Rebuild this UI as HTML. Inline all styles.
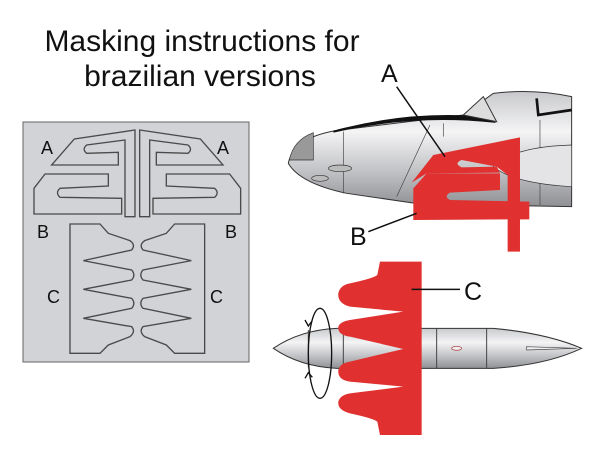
<!DOCTYPE html>
<html><head><meta charset="utf-8"><style>
html,body{margin:0;padding:0;background:#fff;width:600px;height:454px;overflow:hidden}
svg{display:block}
text{font-family:"Liberation Sans",Arial,sans-serif;fill:#111}
</style></head><body>
<svg width="600" height="454" viewBox="0 0 600 454" xmlns="http://www.w3.org/2000/svg">
<defs>
<linearGradient id="g" x1="0" y1="0" x2="0" y2="1">
<stop offset="0" stop-color="#c8c9cc"/><stop offset="0.35" stop-color="#f4f4f5"/><stop offset="0.7" stop-color="#c0c1c4"/><stop offset="1" stop-color="#8f9094"/>
</linearGradient>
</defs>
<text x="202" y="51" font-size="30" text-anchor="middle">Masking instructions for</text>
<text x="200" y="86" font-size="30" text-anchor="middle">brazilian versions</text>

<!-- panel -->
<rect x="23" y="122" width="226" height="240" fill="#d2d3d7" stroke="#666" stroke-width="1"/>
<g transform="translate(20,120) scale(0.3333)" fill="none" stroke="#4a4a4a" stroke-width="4">
 <g id="L">
  <path d="M95 135 L163 57 L345 30 L345 290 L315 290 L315 60 L200 75 Q185 88 200 100 L295 97 L295 135 Z"/>
  <path d="M42 205 L75 162 L265 162 L265 198 L120 205 Q105 218 120 232 L305 235 L305 282 L42 282 Z"/>
  <path d="M150 312 L240 312 L265 340 L330 362 Q348 375 335 390 L190 422 L335 450 Q348 465 335 480 L190 508 L335 535 Q348 550 335 565 L190 595 L335 620 Q348 635 330 650 L265 675 L240 700 L150 700 Z"/>
 </g>
 <use href="#L" transform="translate(704,0) scale(-1,1)"/>
</g>
<text x="41" y="154" font-size="18">A</text>
<text x="217" y="154" font-size="18">A</text>
<text x="37" y="238" font-size="18">B</text>
<text x="225" y="238" font-size="18">B</text>
<text x="47" y="303" font-size="18">C</text>
<text x="210" y="303" font-size="18">C</text>

<!-- plane nose -->
<g transform="translate(280,60) scale(0.3333)">
 <path d="M25 310 Q40 230 180 210 L550 165 L640 100 Q760 85 875 110 L875 440 L420 432 L200 400 Q60 370 25 310 Z" fill="url(#g)" stroke="#333" stroke-width="3"/>
 <path d="M160 215 Q400 160 640 185 L630 175 Q400 150 160 215 Z" fill="#111" stroke="#111" stroke-width="6"/>
 <path d="M550 165 L610 110 L650 185 Z" fill="#ddd" stroke="#333" stroke-width="3"/>
 <path d="M770 115 L775 165 L875 150" fill="none" stroke="#111" stroke-width="8"/>
 <path d="M100 218 L100 300 L28 300 Q40 240 100 218Z" fill="#999" stroke="#333" stroke-width="2"/>
 <path d="M190 215 L190 400 M450 195 L350 410 M490 190 L490 230 M780 180 L780 435" stroke="#444" stroke-width="2" fill="none"/>
 <ellipse cx="180" cy="325" rx="35" ry="10" fill="#bbb" stroke="#333" stroke-width="2"/>
 <ellipse cx="120" cy="355" rx="25" ry="9" fill="#bbb" stroke="#333" stroke-width="2"/>
 <path d="M640 320 Q700 260 875 255 L875 380 Q700 370 640 320Z" fill="#e4e4e6" stroke="#333" stroke-width="2"/>
 <path d="M460 285 L720 232 L720 575 L683 575 L683 345 L650 320 L545 300 Q520 310 545 322 L650 320 L660 338 L440 340 L395 368 Z" fill="#e03030"/>
 <path d="M400 480 L400 385 L440 340 L660 340 L660 390 L510 398 Q490 410 510 420 L748 425 L748 478 Z" fill="#e03030"/>
 <path d="M350 80 L495 290 M265 515 L410 460" stroke="#111" stroke-width="4.5"/>
</g>
<text x="381" y="82" font-size="25">A</text>
<text x="350" y="245" font-size="25">B</text>

<!-- tank -->
<g transform="translate(260,250) scale(0.3333)">
 <path d="M40 295 Q120 240 230 235 L700 235 Q860 250 965 295 Q860 345 700 355 L230 355 Q120 350 40 295 Z" fill="url(#g)" stroke="#333" stroke-width="3"/>
 <path d="M145 240 L145 352 M250 240 L250 352 M530 235 L530 355 M680 235 L680 355" stroke="#444" stroke-width="3"/>
 <path d="M800 290 L950 295 L800 300 Z" fill="#eee" stroke="#444" stroke-width="2"/>
 <ellipse cx="590" cy="295" rx="15" ry="6" fill="#eee" stroke="#a33" stroke-width="2"/>
 <path d="M360 35 L485 35 L485 555 L360 555 L352 515 Q340 505 270 490 Q232 480 235 455 Q240 435 270 430 L430 410 L270 395 Q232 390 235 360 Q240 340 270 335 L430 297 L270 260 Q232 255 235 230 Q240 215 270 210 L430 185 L270 170 Q232 160 235 130 Q240 105 270 100 Q340 85 352 75 Z" fill="#e03030"/>
 <ellipse cx="180" cy="310" rx="35" ry="135" fill="none" stroke="#111" stroke-width="4"/>
 <path d="M135 210 L145 228 L157 212 M135 385 L145 368 L157 382" fill="none" stroke="#111" stroke-width="4"/>
 <path d="M455 118 L600 118" stroke="#111" stroke-width="4.5"/>
</g>
<text x="464" y="300" font-size="25">C</text>
</svg>
</body></html>
